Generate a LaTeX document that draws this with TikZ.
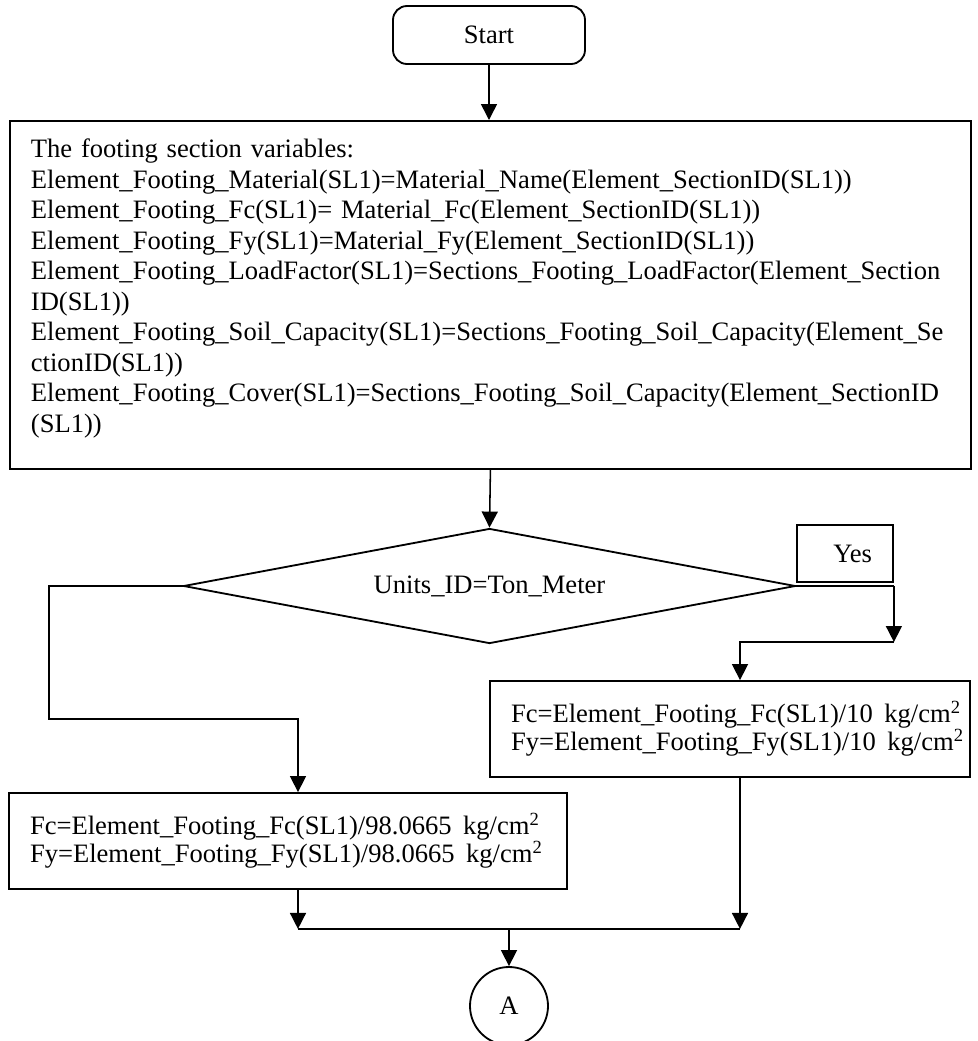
\documentclass[tikz,border=0pt]{standalone}
\usepackage{fontspec}
\setmainfont{Liberation Serif}
\usetikzlibrary{arrows.meta,shapes.geometric,calc}

\begin{document}
\begin{tikzpicture}[
    >={Triangle[width=0.4cm,length=0.4cm]},
    box/.style={draw, line width=1.3pt, inner sep=0pt, font=\fontsize{18.9}{20}\selectfont},
    startbox/.style={box, rounded corners=0.35cm, minimum width=4.8cm, minimum height=1.45cm},
    varbox/.style={box, align=left, text width=22.975cm, inner xsep=0.525cm, inner ysep=0.45cm, font=\fontsize{18.9}{21.7}\selectfont},
    calcbox/.style={box, align=left, inner xsep=0.525cm, minimum height=2.4cm},
    yesbox/.style={box, minimum width=2.4cm, minimum height=1.425cm, text width=1.35cm, align=right},
    dec/.style={box, diamond, aspect=5.32, minimum width=15.3cm, minimum height=2.875cm},
    conn/.style={box, circle, minimum size=1.95cm},
    ln/.style={line width=1.1pt},
    arr/.style={->, line width=1.1pt}
]
    \useasboundingbox (0,0) rectangle (24.45,-26.025);

    \node[startbox] (start) at (12.225,-0.875) {Start};
    \node[varbox, anchor=north west] (vars) at (0.225,-3.0) {The footing section variables:\\
        Element\_Footing\_Material(SL1)=Material\_Name(Element\_SectionID(SL1))\\
        Element\_Footing\_Fc(SL1)= Material\_Fc(Element\_SectionID(SL1))\\
        Element\_Footing\_Fy(SL1)=Material\_Fy(Element\_SectionID(SL1))\\
        Element\_Footing\_LoadFactor(SL1)=Sections\_Footing\_LoadFactor(Element\_Section\\
        ID(SL1))\\
        Element\_Footing\_Soil\_Capacity(SL1)=Sections\_Footing\_Soil\_Capacity(Element\_Se\\
        ctionID(SL1))\\
        Element\_Footing\_Cover(SL1)=Sections\_Footing\_Soil\_Capacity(Element\_SectionID\\
        (SL1))\rule[-0.475cm]{0pt}{0.475cm}};
    \node[dec] (chk) at (12.2375,-14.65) {Units\_ID=Ton\_Meter};
    \node[yesbox] (yes) at (21.125,-13.8375) {Yes};
    \node[calcbox, text width=10.95cm] (tm) at (18.25,-18.225) {Fc=Element\_Footing\_Fc(SL1)/10~\kern0.1em kg/cm\textsuperscript{2}\\
        Fy=Element\_Footing\_Fy(SL1)/10~\kern0.1em kg/cm\textsuperscript{2}};
    \node[calcbox, text width=12.9cm] (si) at (7.2,-21.025) {Fc=Element\_Footing\_Fc(SL1)/98.0665~\kern0.1em kg/cm\textsuperscript{2}\\
        Fy=Element\_Footing\_Fy(SL1)/98.0665~\kern0.1em kg/cm\textsuperscript{2}};
    \node[conn] (A) at (12.725,-25.15) {A};

    \draw[arr] (start.south) -- (start.south |- vars.north);
    \draw[arr] (vars.south) -- (chk.north);

    % yes branch
    \coordinate (r1) at (chk.east -| yes.east);
    \draw[ln] (chk.east) -- (r1);
    \draw[arr] (r1) -- ++(0,-1.4) coordinate (r2);
    \draw[arr] (r2) -| ($(tm.north)+(0.25,0)$);

    % no branch
    \draw[arr] (chk.west) -| (1.225,-17.975) -| ($(si.north)+(0.25,0)$);

    % merge
    \path ($(si.south)+(0.25,0)$) coordinate (s1) ($(tm.south)+(0.25,0)$) coordinate (t1);
    \coordinate (m1) at ($(s1)+(0,-0.975)$);
    \draw[arr] (s1) -- (m1);
    \draw[arr] (t1) -- (t1 |- m1);
    \draw[ln] (m1) -- (t1 |- m1);
    \draw[arr] (A.north |- m1) -- (A.north);
\end{tikzpicture}
\end{document}
